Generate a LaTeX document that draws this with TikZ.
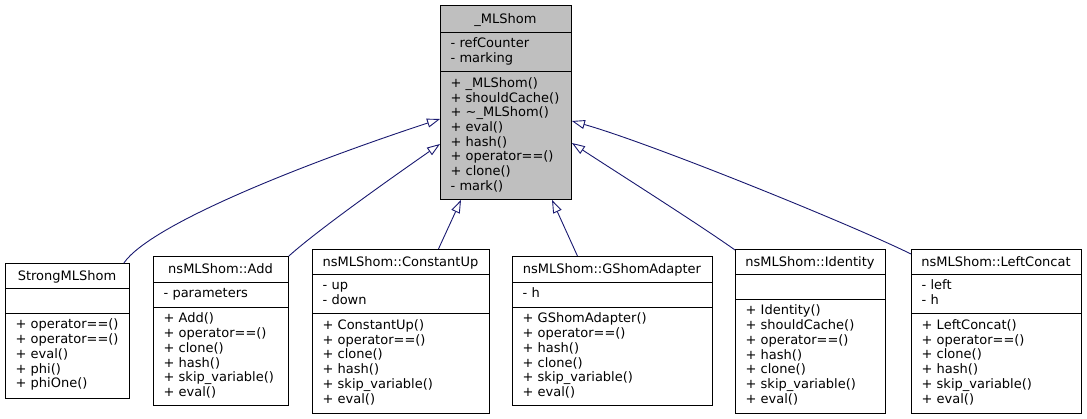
\documentclass[tikz,border=0pt]{standalone}
\usepackage{fontspec}
\setmainfont{DejaVu Sans}
\usetikzlibrary{arrows.meta,calc}
\definecolor{edgeblue}{RGB}{25,25,112}
\definecolor{mainfill}{RGB}{191,191,191}
\tikzset{
  cls/.style={draw=black, line width=0.9pt, rectangle, inner sep=0pt, anchor=north west, fill=white},
  sepline/.style={draw=black, line width=0.9pt},
  txt/.style={inner sep=0pt, font=\fontsize{13}{14.7}\selectfont, anchor=base west},
  ttl/.style={inner sep=0pt, font=\fontsize{13}{14.7}\selectfont, anchor=base},
  inherit/.style={draw=edgeblue, line width=0.9pt, -{Triangle[open, length=13pt, width=9pt, line width=0.9pt]}},
}
\newcommand{\memberlines}[4]{\foreach \mline [count=\mi] in {#4}{\node[txt] (#1-\mi) at (#2, {#3+(\mi-1)*14.7}) {\mline};}}
\begin{document}
\begin{tikzpicture}[x=1pt,y=-1pt]
\useasboundingbox (0,0) rectangle (1087,419);
% base class
\node[cls, fill=mainfill, minimum width=131pt, minimum height=194pt] (mls) at (440,5) {};
\draw[sepline] (440,32) -- (571,32) (440,71.5) -- (571,71.5);
\node[ttl] (mls-t) at (505.5,23.25) {\_MLShom};
\memberlines{mlsa}{450.5}{48}{- refCounter, - marking}
\memberlines{mlsm}{450.5}{87.5}{+ \_MLShom(), + shouldCache(), + \textasciitilde\_MLShom(), + eval(), + hash(), + operator==(), + clone(), - mark()}
% StrongMLShom
\node[cls, minimum width=124pt, minimum height=135pt] (strong) at (5,263) {};
\draw[sepline] (5,288) -- (129,288) (5,313) -- (129,313);
\node[ttl] (strong-t) at (67,280.25) {StrongMLShom};
\memberlines{strongm}{15.5}{329}{+ operator==(), + operator==(), + eval(), + phi(), + phiOne()}
% Add
\node[cls, minimum width=135pt, minimum height=149pt] (add) at (153,256) {};
\draw[sepline] (153,282) -- (288,282) (153,307) -- (288,307);
\node[ttl] (add-t) at (220.5,273.75) {nsMLShom::Add};
\memberlines{adda}{163.5}{298}{- parameters}
\memberlines{addm}{163.5}{323}{+ Add(), + operator==(), + clone(), + hash(), + skip\_variable(), + eval()}
% ConstantUp
\node[cls, minimum width=177pt, minimum height=164pt] (cup) at (312,249) {};
\draw[sepline] (312,274) -- (489,274) (312,313.5) -- (489,313.5);
\node[ttl] (cup-t) at (400.5,266.25) {nsMLShom::ConstantUp};
\memberlines{cupa}{322.5}{290}{- up, - down}
\memberlines{cupm}{322.5}{329.5}{+ ConstantUp(), + operator==(), + clone(), + hash(), + skip\_variable(), + eval()}
% GShomAdapter
\node[cls, minimum width=200pt, minimum height=149pt] (gsa) at (512,256) {};
\draw[sepline] (512,282) -- (712,282) (512,307) -- (712,307);
\node[ttl] (gsa-t) at (612,273.75) {nsMLShom::GShomAdapter};
\memberlines{gsaa}{522.5}{298}{- h}
\memberlines{gsam}{522.5}{323}{+ GShomAdapter(), + operator==(), + hash(), + clone(), + skip\_variable(), + eval()}
% Identity
\node[cls, minimum width=150pt, minimum height=164pt] (ident) at (735,249) {};
\draw[sepline] (735,274) -- (885,274) (735,299) -- (885,299);
\node[ttl] (ident-t) at (810,266.25) {nsMLShom::Identity};
\memberlines{identm}{745.5}{315}{+ Identity(), + shouldCache(), + operator==(), + hash(), + clone(), + skip\_variable(), + eval()}
% LeftConcat
\node[cls, minimum width=170pt, minimum height=164pt] (lc) at (911,249) {};
\draw[sepline] (911,274) -- (1081,274) (911,313.5) -- (1081,313.5);
\node[ttl] (lc-t) at (996,266.25) {nsMLShom::LeftConcat};
\memberlines{lca}{921.5}{290}{- left, - h}
\memberlines{lcm}{921.5}{329.5}{+ LeftConcat(), + operator==(), + clone(), + hash(), + skip\_variable(), + eval()}
% inheritance connectors
\draw[inherit] ($(strong.north east)+(-6,0)$) .. controls (150,225) and (300,165) .. ($(mls.north west)+(0,114)$);
\draw[inherit] (add.north east) .. controls (320,228) and (400,172) .. ($(mls.north west)+(0,139)$);
\draw[inherit] ($(cup.north)+(37.5,0)$) -- ($(mls.south west)+(21,0)$);
\draw[inherit] ($(gsa.north)+(-35,0)$) -- ($(mls.south west)+(112,0)$);
\draw[inherit] ($(ident.north west)+(0,1)$) .. controls (700,225) and (610,168) .. ($(mls.north east)+(0,138)$);
\draw[inherit] ($(lc.north west)+(0,5)$) .. controls (850,224) and (650,143) .. ($(mls.north east)+(0,116)$);
\end{tikzpicture}
\end{document}
